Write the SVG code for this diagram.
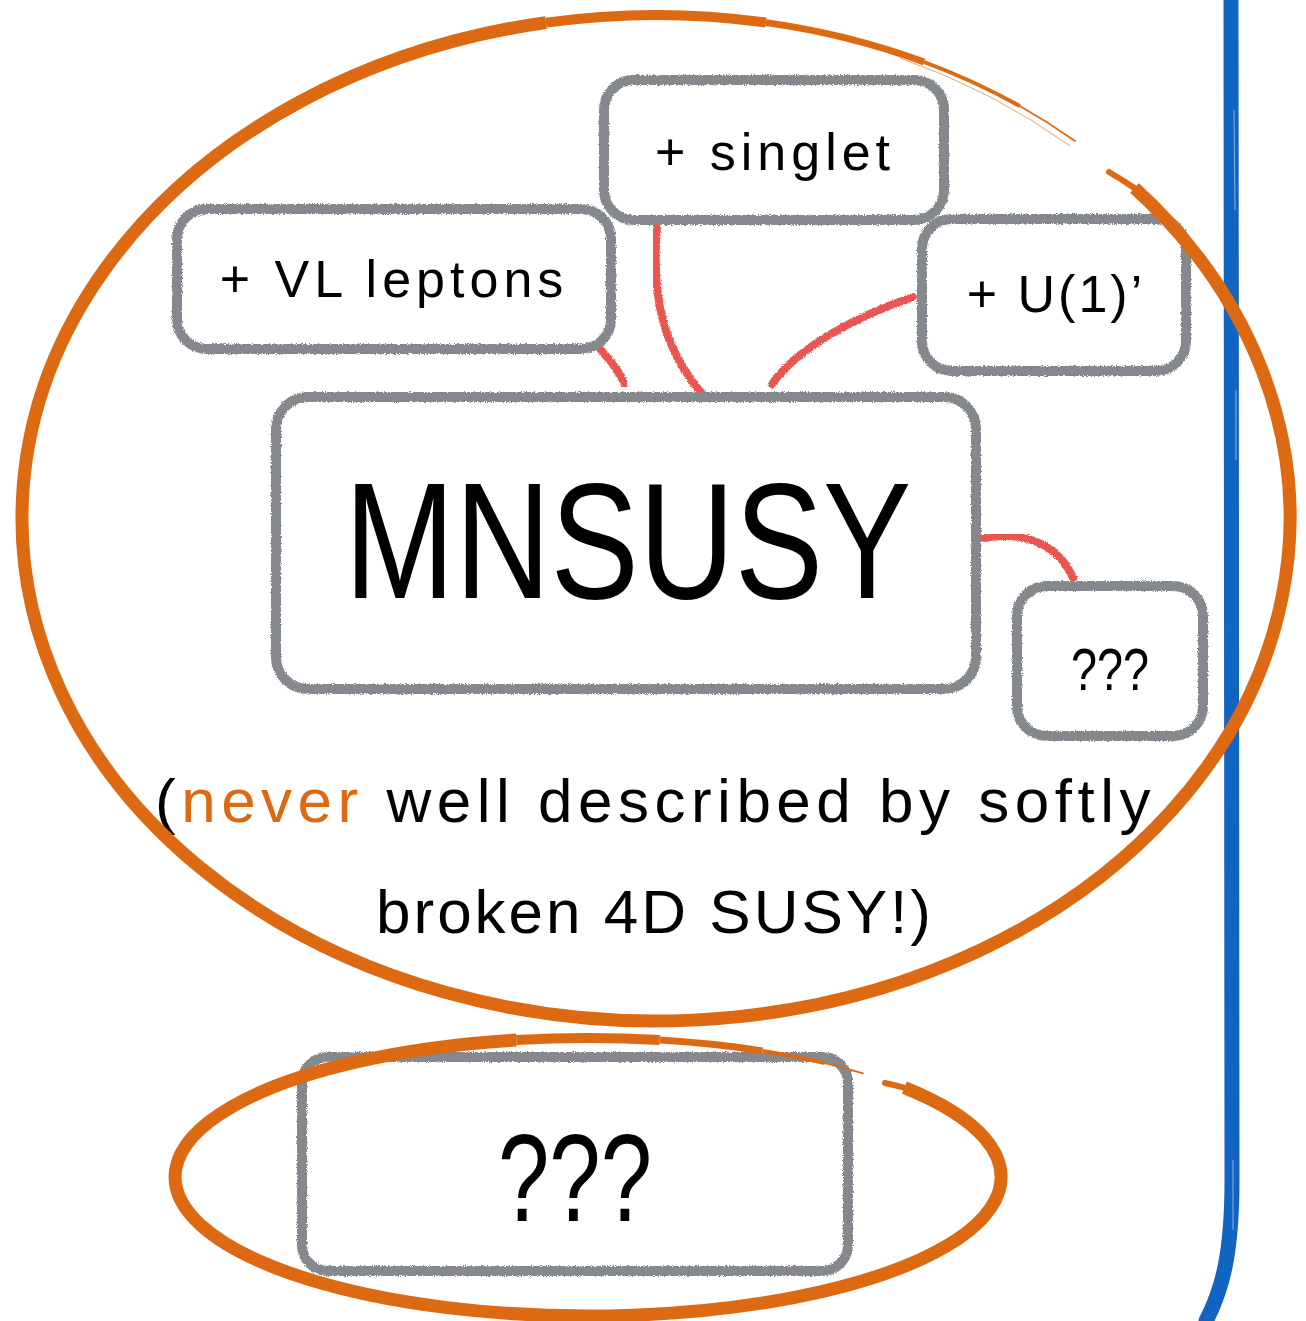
<svg xmlns="http://www.w3.org/2000/svg" width="1306" height="1321" viewBox="0 0 1306 1321">
  <defs>
    <!-- chalky edge for the crayon-style strokes -->
    <filter id="chalk" x="-5%" y="-5%" width="110%" height="110%">
      <feTurbulence type="fractalNoise" baseFrequency="0.9" numOctaves="2" seed="3" result="noise"/>
      <feDisplacementMap in="SourceGraphic" in2="noise" scale="3.5" xChannelSelector="R" yChannelSelector="G"/>
    </filter>
  </defs>
  <style>
    .box { fill: #ffffff; stroke: #85888c; stroke-width: 10; filter: url(#chalk); }
    .link { fill: none; stroke: #e9544f; stroke-width: 8; stroke-linecap: round; filter: url(#chalk); }
    .ring { fill: none; stroke: #dd6a12; stroke-linecap: butt; }
    .tip { stroke-linecap: round; }
    .lbl { font-family: "Liberation Sans", Arial, sans-serif; fill: #000000; text-anchor: middle; }
    .note { font-family: "Liberation Sans", Arial, sans-serif; font-size: 62px; fill: #000000; }
    .hl { fill: #dd6a12; }
    .rule { fill: none; stroke: #1264c2; stroke-linecap: round; }
  </style>

  <rect width="1306" height="1321" fill="#ffffff"/>

  <!-- vertical divider on the right -->
  <g id="divider">
    <path class="rule" stroke-width="15" d="M1231,0 L1232,1180 C1232,1255 1222,1290 1206,1321"/>
    <path class="rule" stroke-width="4" stroke="#1a6fcf" d="M1236,0 L1237,1185 C1236,1258 1226,1292 1212,1321"/>
    <path fill="none" stroke="#ffffff" stroke-opacity="0.5" stroke-width="1" d="M1234,110 L1235,210 M1236,390 L1236,460 M1233,1160 L1233,1230"/>
  </g>

  <!-- connectors -->
  <g id="connectors">
    <path class="link" d="M599,348 C610,360 620,372 625,385"/>
    <path class="link" d="M657,226 C651,300 664,350 704,396"/>
    <path class="link" d="M913,297 C860,315 800,345 772,384"/>
    <path class="link" d="M983,538 C1030,530 1060,548 1073,578"/>
  </g>

  <g id="node-singlet">
    <rect class="box" x="604" y="80" width="340" height="140" rx="30"/>
    <text class="lbl" x="775" y="170" font-size="52" letter-spacing="5">+ singlet</text>
  </g>

  <g id="node-vl-leptons">
    <rect class="box" x="177" y="209" width="434" height="140" rx="30"/>
    <text class="lbl" x="394" y="297" font-size="52" letter-spacing="5">+ VL leptons</text>
  </g>

  <g id="node-u1">
    <rect class="box" x="922" y="219" width="264" height="152" rx="30"/>
    <text class="lbl" x="1056" y="312" font-size="52" letter-spacing="3">+ U(1)’</text>
  </g>

  <g id="node-mnsusy">
    <rect class="box" x="276" y="397" width="700" height="292" rx="32"/>
    <text class="lbl" x="628" y="598" font-size="165" textLength="567" lengthAdjust="spacingAndGlyphs">MNSUSY</text>
  </g>

  <g id="node-unknown-small">
    <rect class="box" x="1017" y="586" width="186" height="150" rx="30"/>
    <text class="lbl" x="1110" y="690" font-size="60" textLength="78" lengthAdjust="spacingAndGlyphs">???</text>
  </g>

  <g id="node-unknown-large">
    <rect class="box" x="302" y="1057" width="546" height="214" rx="26"/>
    <text class="lbl" x="575" y="1221" font-size="124" textLength="154" lengthAdjust="spacingAndGlyphs">???</text>
  </g>

  <!-- caption inside the big ring -->
  <g id="caption">
    <text class="note" x="155" y="822" letter-spacing="5.5">(<tspan class="hl">never</tspan> well described by softly</text>
    <text class="note" x="376" y="933" letter-spacing="3">broken 4D SUSY!)</text>
  </g>

  <!-- hand-drawn rings: thick start, tapering tail -->
  <g id="ring-large">
    <path class="ring tip" stroke-width="6" d="M1109,172 A634 503 0 0 1 1134.5,188"/>
    <path class="ring" stroke-width="13" d="M1134.5,188 A634 503 0 1 1 546,22.6"/>
    <path class="ring" stroke-width="10" d="M546,22.6 A634 503 0 0 1 766,22.6"/>
    <path class="ring" stroke-width="7" d="M766,22.6 A634 503 0 0 1 924,62"/>
    <path class="ring" stroke-width="4" d="M924,62 A634 503 0 0 1 1019.7,106"/>
    <path class="ring tip" stroke-width="1.8" d="M1019.7,106 A634 503 0 0 1 1075,141"/>
    <path class="ring" stroke-width="1" stroke-opacity="0.6" d="M900,58 A634 503 0 0 1 1070,146"/>
  </g>

  <g id="ring-small">
    <path class="ring tip" stroke-width="6" d="M885,1083 A413 139 0 0 1 904.4,1087.6"/>
    <path class="ring" stroke-width="13" d="M904.4,1087.6 A413 139 0 1 1 516.3,1040.1"/>
    <path class="ring" stroke-width="10" d="M516.3,1040.1 A413 139 0 0 1 659.7,1040.1"/>
    <path class="ring" stroke-width="7" d="M659.7,1040.1 A413 139 0 0 1 762.5,1051"/>
    <path class="ring" stroke-width="4" d="M762.5,1051 A413 139 0 0 1 824.9,1063.1"/>
    <path class="ring tip" stroke-width="1.8" d="M824.9,1063.1 A413 139 0 0 1 863,1073.3"/>
  </g>
</svg>
